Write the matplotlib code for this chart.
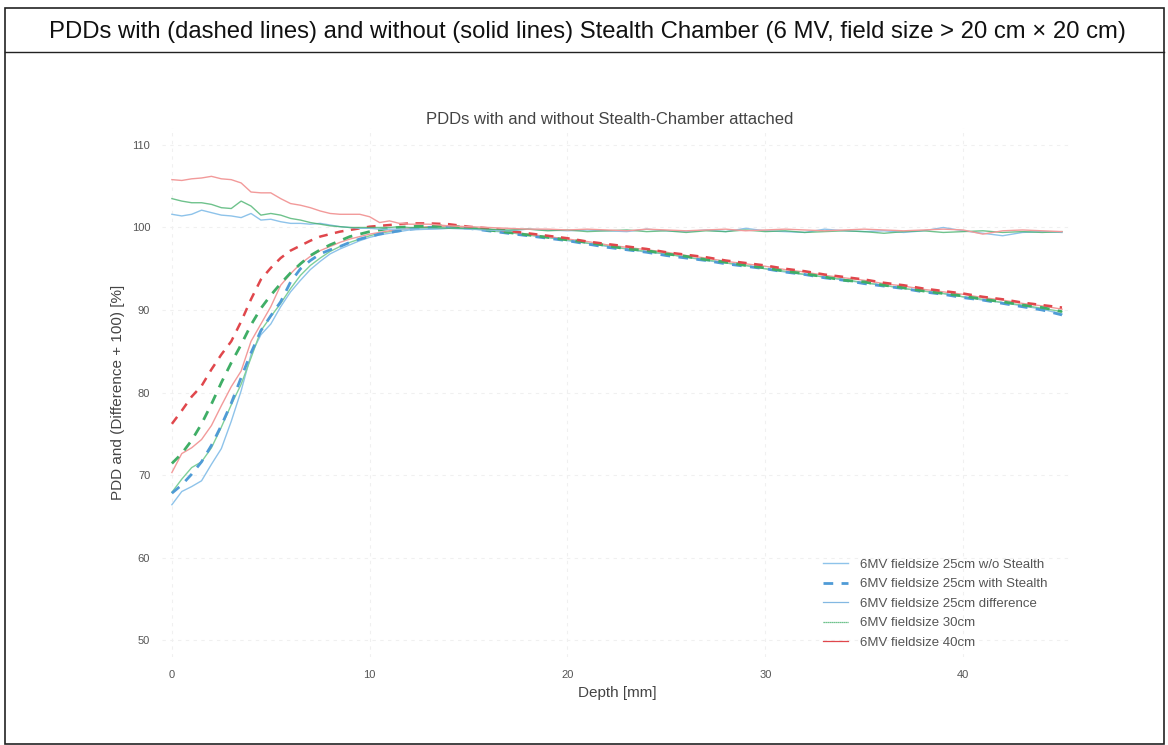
import matplotlib
matplotlib.use("Agg")
import matplotlib.pyplot as plt
from matplotlib.patches import Rectangle
from matplotlib.lines import Line2D

plt.rcParams["font.family"] = ["Liberation Sans", "DejaVu Sans"]

depth = [0, 0.5, 1, 1.5, 2, 2.5, 3, 3.5, 4, 4.5, 5, 5.5, 6, 6.5, 7, 7.5, 8, 8.5, 9, 9.5,
         10, 10.5, 11, 11.5, 12, 13, 14, 15, 16, 17, 18, 19, 20, 21, 22, 23, 24, 25, 26,
         27, 28, 29, 30, 31, 32, 33, 34, 35, 36, 37, 38, 39, 40, 41, 42, 43, 44, 45]

# 25 cm field
pdd25_wo = [66.4, 68.0, 68.6, 69.3, 71.3, 73.2, 76.5, 80.2, 84.6, 87.0, 88.3, 90.4, 92.2, 93.6,
            94.9, 95.9, 96.8, 97.4, 97.9, 98.4, 98.8, 99.1, 99.3, 99.5, 99.7, 99.8, 99.9, 99.9,
            99.6, 99.4, 99.1, 98.8, 98.4, 98.1, 97.7, 97.4, 97.0, 96.8, 96.4, 96.0, 95.7, 95.4,
            95.0, 94.6, 94.3, 94.0, 93.6, 93.3, 93.0, 92.6, 92.3, 92.0, 91.6, 91.2, 90.9, 90.5,
            90.1, 89.5]
pdd25_with = [67.8, 68.8, 70.1, 71.6, 73.6, 76.0, 78.7, 81.8, 84.8, 87.5, 89.3, 91.0, 93.4, 95.0,
              96.0, 96.8, 97.3, 97.7, 98.2, 98.6, 98.9, 99.2, 99.4, 99.6, 99.8, 100.0, 100.1, 99.9,
              99.6, 99.3, 99.0, 98.7, 98.4, 98.0, 97.6, 97.3, 97.0, 96.6, 96.3, 96.0, 95.6, 95.3,
              95.0, 94.6, 94.3, 93.9, 93.6, 93.2, 92.9, 92.6, 92.2, 91.9, 91.5, 91.2, 90.8, 90.4,
              90.0, 89.4]
diff25 = [101.6, 101.4, 101.6, 102.1, 101.8, 101.5, 101.4, 101.2, 101.7, 100.9, 101.0, 100.7, 100.5,
          100.5, 100.4, 100.5, 100.3, 100.1, 100.0, 99.9, 99.9, 99.8, 99.8, 99.8, 99.8, 99.8, 99.9,
          99.8, 99.7, 99.6, 99.8, 99.7, 99.6, 99.7, 99.6, 99.5, 99.8, 99.6, 99.5, 99.7, 99.5, 99.9,
          99.6, 99.5, 99.4, 99.8, 99.6, 99.5, 99.6, 99.4, 99.6, 100.0, 99.6, 99.3, 99.0, 99.4, 99.5,
          99.4]

# 30 cm field
pdd30_wo = [67.9, 69.5, 70.9, 71.6, 73.3, 75.8, 78.5, 81.0, 84.2, 87.5, 89.2, 90.8, 92.6, 94.2,
            95.4, 96.3, 97.1, 97.7, 98.2, 98.6, 99.0, 99.3, 99.5, 99.7, 99.9, 100.0, 100.1, 99.9,
            99.7, 99.4, 99.1, 98.8, 98.5, 98.1, 97.8, 97.4, 97.1, 96.8, 96.4, 96.1, 95.7, 95.4,
            95.0, 94.7, 94.3, 94.0, 93.7, 93.3, 93.0, 92.6, 92.3, 92.0, 91.6, 91.3, 90.9, 90.6,
            90.2, 89.8]
pdd30_with = [71.4, 72.6, 74.2, 76.2, 78.6, 81.2, 83.6, 85.8, 88.2, 90.2, 91.8, 93.2, 94.5, 95.6,
              96.6, 97.3, 97.9, 98.4, 98.9, 99.2, 99.5, 99.7, 99.9, 100.0, 100.1, 100.2, 100.2, 100.0,
              99.7, 99.4, 99.1, 98.8, 98.5, 98.2, 97.8, 97.4, 97.2, 96.8, 96.5, 96.1, 95.8, 95.4,
              95.1, 94.7, 94.4, 94.0, 93.6, 93.4, 93.0, 92.7, 92.3, 92.0, 91.7, 91.3, 91.0, 90.6,
              90.3, 89.8]
diff30 = [103.5, 103.2, 103.0, 103.0, 102.8, 102.4, 102.3, 103.2, 102.6, 101.5, 101.7, 101.5, 101.1,
          100.9, 100.6, 100.4, 100.2, 100.1, 100.0, 100.0, 100.0, 100.0, 100.0, 100.1, 100.0, 100.0,
          99.9, 99.9, 99.8, 99.7, 99.8, 99.6, 99.7, 99.5, 99.6, 99.7, 99.5, 99.6, 99.4, 99.6, 99.5,
          99.7, 99.5, 99.6, 99.4, 99.5, 99.6, 99.5, 99.3, 99.5, 99.6, 99.4, 99.5, 99.6, 99.4, 99.5,
          99.4, 99.5]

# 40 cm field
pdd40_wo = [70.3, 72.6, 73.3, 74.3, 76.0, 78.4, 80.7, 82.6, 86.2, 88.3, 90.4, 93.0, 94.4, 95.6,
            96.5, 97.2, 97.7, 98.2, 98.6, 98.9, 99.2, 99.4, 99.6, 99.7, 99.9, 100.1, 100.2, 100.0,
            99.8, 99.5, 99.2, 98.9, 98.6, 98.3, 97.9, 97.6, 97.3, 97.0, 96.6, 96.3, 95.9, 95.6,
            95.3, 94.9, 94.6, 94.2, 93.9, 93.6, 93.2, 92.9, 92.5, 92.2, 91.9, 91.5, 91.2, 90.8,
            90.5, 90.1]
pdd40_with = [76.2, 77.8, 79.5, 80.8, 82.8, 84.6, 86.2, 88.6, 91.3, 93.7, 95.1, 96.3, 97.2, 97.8,
              98.4, 98.9, 99.2, 99.5, 99.7, 99.9, 100.1, 100.2, 100.3, 100.4, 100.5, 100.5, 100.4, 100.1,
              99.9, 99.6, 99.3, 99.0, 98.7, 98.3, 98.0, 97.7, 97.4, 97.0, 96.7, 96.4, 96.0, 95.7,
              95.4, 95.0, 94.7, 94.3, 94.0, 93.7, 93.3, 93.0, 92.6, 92.3, 92.0, 91.6, 91.3, 90.9,
              90.6, 90.3]
diff40 = [105.8, 105.7, 105.9, 106.0, 106.2, 105.9, 105.8, 105.4, 104.3, 104.2, 104.2, 103.5, 102.9,
          102.7, 102.4, 102.0, 101.7, 101.6, 101.6, 101.6, 101.3, 100.6, 100.8, 100.5, 100.4, 100.4,
          100.2, 100.1, 100.0, 99.9, 99.8, 99.8, 99.7, 99.8, 99.7, 99.6, 99.8, 99.7, 99.6, 99.7, 99.8,
          99.6, 99.7, 99.8, 99.7, 99.6, 99.7, 99.8, 99.7, 99.6, 99.7, 99.8, 99.7, 99.2, 99.6, 99.7,
          99.6, 99.5]

legend_labels = ["6MV fieldsize 25cm w/o Stealth", "6MV fieldsize 25cm with Stealth",
                 "6MV fieldsize 25cm difference", "6MV fieldsize 30cm", "6MV fieldsize 40cm"]

blue_l, blue_d = "#8ec3ea", "#4f9bd6"
green_l, green_d = "#7fcf98", "#3fae66"
red_l, red_d = "#f29a9a", "#e0474c"

fig = plt.figure(figsize=(11.68, 7.45), dpi=100)
# boxed figure with a header row
fig.patches.append(Rectangle((5 / 1168, 1 / 745), 1159 / 1168, 736 / 745, transform=fig.transFigure,
                             fill=False, edgecolor="#222222", lw=1.2))
fig.add_artist(Line2D([5 / 1168, 1164 / 1168], [1 - 52 / 745, 1 - 52 / 745],
                      transform=fig.transFigure, color="#222222", lw=1.0))
fig.text(0.503, 1 - 32 / 745, "PDDs with (dashed lines) and without (solid lines) Stealth Chamber "
         "(6 MV, field size > 20 cm \u00d7 20 cm)", ha="center", va="center", fontsize=17.2,
         color="#111111")

ax = fig.add_axes([0.1387, 0.1181, 0.779, 0.7101])

ax.plot(depth, pdd25_wo, color=blue_l, lw=1.0)
ax.plot(depth, pdd30_wo, color=green_l, lw=1.0)
ax.plot(depth, pdd40_wo, color=red_l, lw=1.0)
ax.plot(depth, pdd25_with, color=blue_d, lw=2.0, ls=(0, (3.5, 3)))
ax.plot(depth, pdd30_with, color=green_d, lw=2.0, ls=(0, (3.5, 3)))
ax.plot(depth, pdd40_with, color=red_d, lw=1.8, ls=(0, (3.5, 3)))
ax.plot(depth, diff25, color=blue_l, lw=1.0)
ax.plot(depth, diff30, color=green_d, lw=1.0, alpha=0.75)
ax.plot(depth, diff40, color=red_l, lw=1.0)

handles = [Line2D([], [], color=blue_l, lw=1.0),
           Line2D([], [], color=blue_d, lw=2.0, ls=(0, (3.5, 3))),
           Line2D([], [], color=blue_d, lw=0.9, alpha=0.7),
           Line2D([], [], color=green_d, lw=0.9, ls=(0, (1, 0.6))),
           Line2D([], [], color=red_d, lw=0.9)]
ax.legend(handles, legend_labels, loc="upper left", bbox_to_anchor=(0.7195, 0.199), frameon=False,
          fontsize=9.5, labelcolor="#555555", handlelength=1.9, handletextpad=0.85,
          labelspacing=0.56, borderpad=0)

ax.set_xlim(-0.5, 45.5)
ax.set_ylim(47.94, 112.06)
ax.set_xticks([0, 10, 20, 30, 40])
ax.set_yticks([50, 60, 70, 80, 90, 100, 110])
ax.tick_params(axis="y", length=0, labelsize=8, labelcolor="#555555", pad=8.5)
ax.tick_params(axis="x", length=0, labelsize=8, labelcolor="#555555", pad=9)
ax.grid(True, color="#f0f0f0", lw=0.8, ls=(0, (3, 4)))
for s in ax.spines.values():
    s.set_visible(False)

ax.set_title("PDDs with and without Stealth-Chamber attached", fontsize=12, color="#444444",
             pad=3, x=0.492)
ax.set_xlabel("Depth [mm]", fontsize=11, color="#444444", labelpad=5)
ax.set_ylabel("PDD and (Difference + 100) [%]", fontsize=11, color="#444444", labelpad=5)

fig.savefig("out.png", dpi=100)
